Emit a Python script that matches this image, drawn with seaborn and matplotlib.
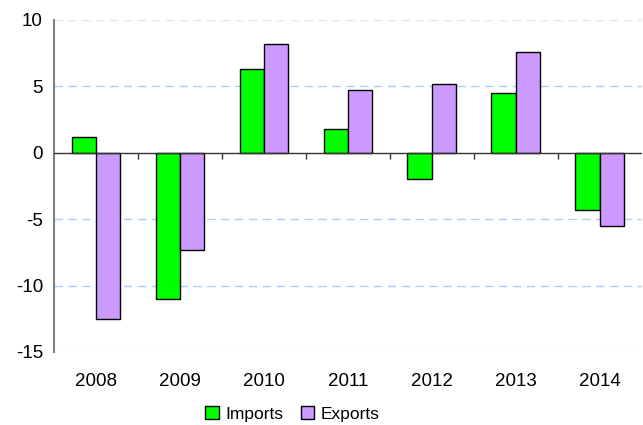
"""Imports vs exports growth, 2008-2014."""
import pandas as pd
import matplotlib
matplotlib.use("Agg")
import matplotlib.pyplot as plt
import seaborn as sns

years = ["2008", "2009", "2010", "2011", "2012", "2013", "2014"]
imports = [1.2, -11.0, 6.3, 1.8, -2.0, 4.5, -4.3]
exports = [-12.5, -7.3, 8.2, 4.7, 5.2, 7.6, -5.5]
series = ["Imports", "Exports"]
colors = ["#00FF00", "#CC99FF"]

df = pd.DataFrame({
    "year": years * 2,
    "series": ["Imports"] * len(years) + ["Exports"] * len(years),
    "value": imports + exports,
})

sns.set_style("white")
plt.rcParams["font.family"] = ["Liberation Sans", "DejaVu Sans"]
plt.rcParams["text.color"] = "black"
plt.rcParams["xtick.color"] = "black"
plt.rcParams["ytick.color"] = "black"

fig = plt.figure(figsize=(6.43, 4.25), dpi=100)
ax = fig.add_axes([0.084, 0.172, 0.914, 0.781])

sns.barplot(
    data=df, x="year", y="value", hue="series", hue_order=series,
    palette=colors, width=0.58, edgecolor="black", linewidth=1.0,
    saturation=1, ax=ax, legend=False, zorder=3,
)

ax.set_ylim(-15, 10)
ax.set_xlim(-0.5, len(years) - 0.5)
ax.set_yticks([-15, -10, -5, 0, 5, 10])
ax.set_yticklabels(["-15", "-10", "-5", "0", "5", "10"], fontsize=13.5)
# dashed grid, the outer lines fainter
for y in [-10, -5, 5]:
    ax.axhline(y, color="#aad0f8", lw=1.0, ls=(0, (6, 4)), zorder=1)
for y in [-15, 10]:
    ax.axhline(y, color="#d8e9fc", lw=1.0, ls=(0, (6, 4)), zorder=1)
ax.axhline(0, color="#333333", lw=1.0, zorder=4)
# category separators below the zero line
ax.vlines([i + 0.5 for i in range(len(years) - 1)], -0.45, 0,
          color="#333333", lw=1.0, zorder=4)

ax.set_xticks(range(len(years)))
ax.set_xticklabels(years, fontsize=13.5)
ax.tick_params(axis="x", length=0, pad=15)
ax.tick_params(axis="y", length=5, width=1, color="#777777", direction="out", pad=3)
ax.set_xlabel("")
ax.set_ylabel("")

for side in ["top", "right", "bottom"]:
    ax.spines[side].set_visible(False)
ax.spines["left"].set_color("#808080")
ax.spines["left"].set_linewidth(1.5)

handles = [plt.Rectangle((0, 0), 1, 1, facecolor=c, edgecolor="black", lw=1.0)
           for c in colors]
fig.legend(handles, series, loc="center", bbox_to_anchor=(0.455, 0.026), ncol=2,
           frameon=False, fontsize=12.5, handlelength=0.75, handleheight=0.75,
           handletextpad=0.4, columnspacing=1.0)

plt.savefig("out.png", dpi=100)
plt.close()
